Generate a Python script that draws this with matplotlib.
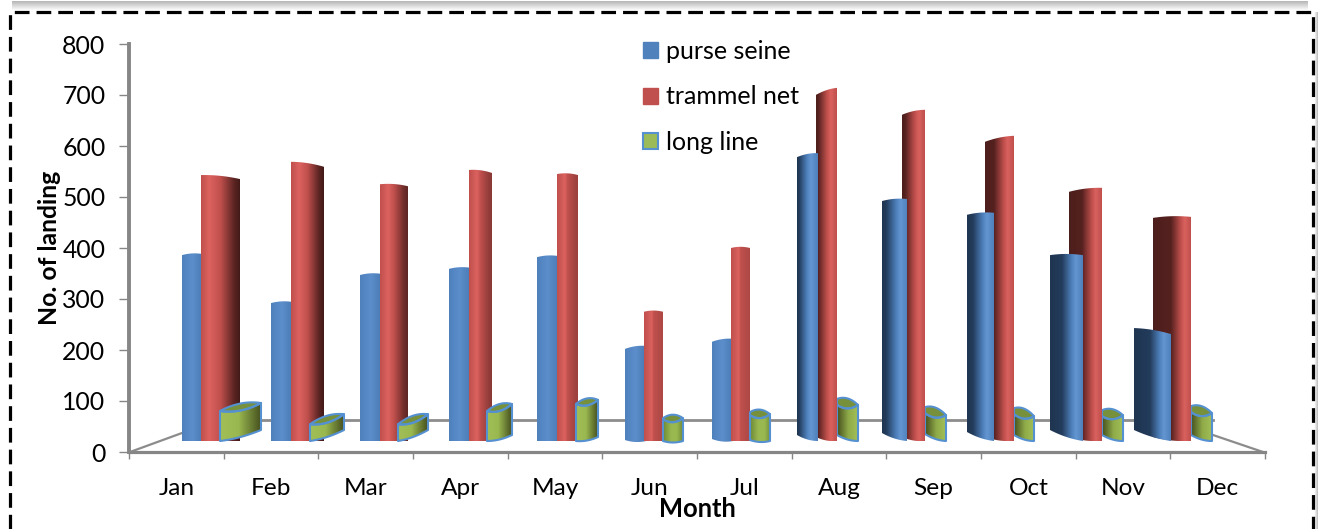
import matplotlib
matplotlib.use('Agg')
import matplotlib.pyplot as plt
import numpy as np
from matplotlib.colors import to_rgb
from matplotlib.lines import Line2D
from matplotlib.patches import Patch, Polygon

plt.rcParams['font.family'] = ['Lato', 'DejaVu Sans']

months = ['Jan', 'Feb', 'Mar', 'Apr', 'May', 'Jun', 'Jul', 'Aug', 'Sep', 'Oct', 'Nov', 'Dec']
purse_seine = [388, 294, 349, 361, 384, 208, 222, 586, 496, 469, 386, 243]
trammel_net = [543, 569, 525, 553, 545, 275, 400, 714, 671, 620, 518, 461]
long_line = [100, 78, 78, 98, 108, 80, 88, 108, 88, 86, 82, 90]
y_ticks = [0, 100, 200, 300, 400, 500, 600, 700, 800]

W, H = 1318, 529
AX_L, AX_R, AX_B, AX_T = 129, 1265, 452, 44

# shape of the fake 3D, in pixels: the perspective is not even across the months
blue_l = [182, 271, 360, 449, 537, 625, 712, 797, 882, 967, 1050, 1134]
split = [201, 291, 380, 469, 557, 644, 731, 818, 907, 994, 1083, 1171]   # blue / red border
red_r = [240, 324, 408, 492, 578, 663, 750, 837, 925, 1014, 1102, 1191]
green_l = [220, 310, 398, 487, 576, 663, 750, 837, 925, 1014, 1102, 1191]
green_r = [261, 344, 428, 512, 598, 683, 770, 858, 946, 1034, 1123, 1212]
red_l_back = [816, 902, 985, 1069, 1153]   # red shows behind the blue from Aug on
blue_tilt = [1, 1, 1, 1, 1, 3, 3, 4, 2, 2, 0, -6]
red_tilt = [-4, -5, -2, -3, -1, 0, 0, 7, 5, 6, 4, 1]
blue_lift = [0, 0, 0, 0, 0, 1, 2, 6, 8, 9, 11, 11]
cap_left = [10, 12, 12, 9, 7, 7, 5, 2, 0, 0, 0, 0]
cap_right = [2, 2, 2, 2, 3, 7, 7, 8, 8, 8, 5, 7]
cap_front = [10, 12, 12, 9, 7, 8, 8, 8, 6, 6, 6, 6]
base_l = [0, 0, 0, 0, 0, 0, 1, 6, 7, 6, 6, 6]
base_r = [11, 11, 11, 6, 4, 0, 0, 0, 0, 0, 0, 0]
BASE_PX = 441

fig = plt.figure(figsize=(W / 100, H / 100), dpi=100)

# dashed frame and its shadow sit on a full size pixel axes
bg = fig.add_axes([0, 0, 1, 1])
bg.set_xlim(0, W)
bg.set_ylim(H, 0)
bg.axis('off')
bg.imshow(np.linspace(0.72, 1, 10).reshape(-1, 1), extent=(12, 1308, 11, 1), cmap='gray',
          vmin=0, vmax=1, aspect='auto', interpolation='bilinear')
bg.imshow(np.linspace(1, 0.75, 5).reshape(1, -1), extent=(1314, 1318, H, 12), cmap='gray',
          vmin=0, vmax=1, aspect='auto', interpolation='bilinear')
bg.set_xlim(0, W)
bg.set_ylim(H, 0)
bg.plot([9.5, 9.5, 1313, 1313], [H, 11.5, 11.5, H], color='black', lw=2.3,
        linestyle=(0, (4.6, 2.2)), solid_joinstyle='miter')

ax = fig.add_axes([AX_L / W, 1 - AX_B / H, (AX_R - AX_L) / W, (AX_B - AX_T) / H])
ax.patch.set_alpha(0)
for s in ['top', 'right']:
    ax.spines[s].set_visible(False)
ax.spines['left'].set_linewidth(2.8)
ax.spines['bottom'].set_linewidth(2.3)
ax.spines['left'].set_color('#868686')
ax.spines['bottom'].set_color('#868686')
ax.set_yticks(y_ticks)
ax.set_xticks(range(13))
ax.set_xticklabels([])
ax.set_xticks(np.arange(12) + 0.5, minor=True)
ax.set_xticklabels(months, minor=True)
ax.tick_params(axis='x', which='major', length=5, width=1, color='#868686')
ax.tick_params(axis='x', which='minor', length=0, labelsize=17.6, pad=18.5)
ax.tick_params(axis='y', length=7, width=1, color='#868686', labelsize=17.8, pad=10)
ax.set_ylabel('No. of landing', fontsize=17.8, fontweight='bold', labelpad=1)
ax.set_xlabel('Month', fontsize=18.4, fontweight='bold', labelpad=-1.5)

PER_PX = 800 / (AX_B - AX_T)
BASE = (AX_B - BASE_PX) * PER_PX


def mx(px):
    return (np.asarray(px, dtype=float) - AX_L) / (AX_R - AX_L) * 12


def curve(x0, y0, x1, y1, bulge=0.0, n=24):
    t = np.linspace(0, 1, n)
    return np.column_stack([x0 + (x1 - x0) * t, y0 + (y1 - y0) * t + bulge * 4 * t * (1 - t)])


def mix(c1, c2, f):
    return tuple(np.array(to_rgb(c1)) * (1 - f) + np.array(to_rgb(c2)) * f)


def paint(outline, l, r, stops, z):
    # gradient across the bar, clipped to the outline
    xs = np.array([s[0] for s in stops], dtype=float)
    cols = np.array([to_rgb(s[1]) for s in stops])
    px = np.linspace(l, r, max(int(r - l) * 2, 2))
    img = np.stack([np.interp(px, xs, cols[:, i]) for i in range(3)], axis=1)[None, :, :]
    lo, hi = outline[:, 1].min(), outline[:, 1].max()
    im = ax.imshow(img, extent=(mx(l), mx(r), lo, hi), aspect='auto', zorder=z, interpolation='bilinear')
    im.set_clip_path(Polygon(outline, transform=ax.transData))


def column(m, l, r, value, tilt, lift, stops, z):
    # tilt > 0: right edge is the high one
    y_left = value - max(tilt, 0) * PER_PX
    y_right = value - max(-tilt, 0) * PER_PX
    top = curve(mx(l), y_left, mx(r), y_right, 1.2 * PER_PX)
    bottom = curve(mx(r), BASE, mx(l), BASE + lift * PER_PX, -1.5 * PER_PX if lift else 0)
    paint(np.vstack([top, bottom]), l, r, stops, z)


def blue_stops(l, r, m):
    w = r - l
    if m < 7:
        return [(l, '#4f81bd'), (l + w * 0.5, '#5b8ecb'), (r, '#4a7ab4')]
    return [(l, '#1f3550'), (l + max(w - 21, 2), '#233c5c'), (r - 11, '#4f81bd'), (r - 7, '#6496d2'), (r, '#4f81bd')]


def red_stops(l, r, m):
    w = r - l
    if m < 7:
        dark = mix('#c0504d', '#431a18', min(1, max(0, (w - 17) / 14)))
        return [(l, '#c0504d'), (l + 8, '#dc625f'), (l + w * 0.5, '#c0504d'), (l + w * 0.85, mix('#c0504d', dark, 0.8)), (r, dark)]
    return [(l, '#4d1f1c'), (l + max(w - 20, 2), '#55211f'), (r - 10, '#c0504d'), (r - 6, '#d9625e'), (r, '#c0504d')]


def green_stops(l, r, m):
    w = r - l
    if m < 5:
        return [(l, '#a2bf57'), (l + w * 0.45, '#9ab850'), (r, '#46511f')]
    if m < 7:
        return [(l, '#6f8a37'), (l + w * 0.4, '#9ab850'), (l + w * 0.7, '#9ab850'), (r, '#6f8a37')]
    return [(l, '#46511f'), (l + w * 0.55, '#8fab49'), (r, '#a2bf57')]


def green_bar(m, z):
    l, r = green_l[m], green_r[m]
    v = long_line[m]
    y_back = v - cap_left[m] * PER_PX
    y_front = v - cap_front[m] * PER_PX
    y_right = v - cap_right[m] * PER_PX
    back = curve(mx(l), y_back, mx(r), y_right, 3.5 * PER_PX)
    front = curve(mx(r), y_right, mx(l), y_front, -3.5 * PER_PX)
    bottom = curve(mx(r), BASE + base_r[m] * PER_PX, mx(l), BASE + base_l[m] * PER_PX, -1.5 * PER_PX)
    body = np.vstack([front[::-1], bottom])
    paint(body, l, r, green_stops(l, r, m), z)
    ax.add_patch(Polygon(np.vstack([back, front]), closed=True, facecolor='#76903c', edgecolor='#5590d0',
                         lw=1.5, zorder=z + 0.1, joinstyle='round'))
    ax.add_patch(Polygon(body, closed=True, facecolor='none', edgecolor='#5590d0', lw=1.5,
                         zorder=z + 0.1, joinstyle='round'))


# floor lines behind the bars
floor = Line2D([mx(184), mx(1213)], [(AX_B - 420) * PER_PX] * 2, color='#8c8c8c', lw=2, zorder=1)
ax.add_line(floor)
ax.plot(mx([130, 182]), [0, (AX_B - 433) * PER_PX], color='#8c8c8c', lw=1.6, zorder=1)
ax.plot(mx([1213, 1263]), [(AX_B - 435) * PER_PX, 0], color='#8c8c8c', lw=1.6, zorder=1)

for m in range(12):
    z = 10 + m * 5
    if m < 7:
        # camera left of the centre: green is nearest
        column(m, blue_l[m], split[m] + 2, purse_seine[m], blue_tilt[m], blue_lift[m],
               blue_stops(blue_l[m], split[m] + 2, m), z)
        column(m, split[m], red_r[m], trammel_net[m], red_tilt[m], 0, red_stops(split[m], red_r[m], m), z + 1)
        green_bar(m, z + 2)
    else:
        green_bar(m, z)
        rl = red_l_back[m - 7]
        column(m, rl, red_r[m], trammel_net[m], red_tilt[m], 4, red_stops(rl, red_r[m], m), z + 1)
        column(m, blue_l[m], split[m], purse_seine[m], blue_tilt[m], blue_lift[m],
               blue_stops(blue_l[m], split[m], m), z + 2)

ax.set_xlim(0, 12)
ax.set_ylim(0, 800)

handles = [Patch(facecolor='#4f81bd', edgecolor='#4f81bd', label='purse seine'),
           Patch(facecolor='#c0504d', edgecolor='#c0504d', label='trammel net'),
           Patch(facecolor='#9bbb59', edgecolor='#5590d0', lw=1.5, label='long line')]
leg = ax.legend(handles=handles, loc='upper left', bbox_to_anchor=((643 - AX_L) / (AX_R - AX_L), 1.01),
                frameon=False, fontsize=18, labelspacing=0.9, handlelength=0.6, handleheight=0.6,
                handletextpad=0.3, borderpad=0, borderaxespad=0)
leg.set_zorder(100)

fig.savefig('out.png', dpi=100)
